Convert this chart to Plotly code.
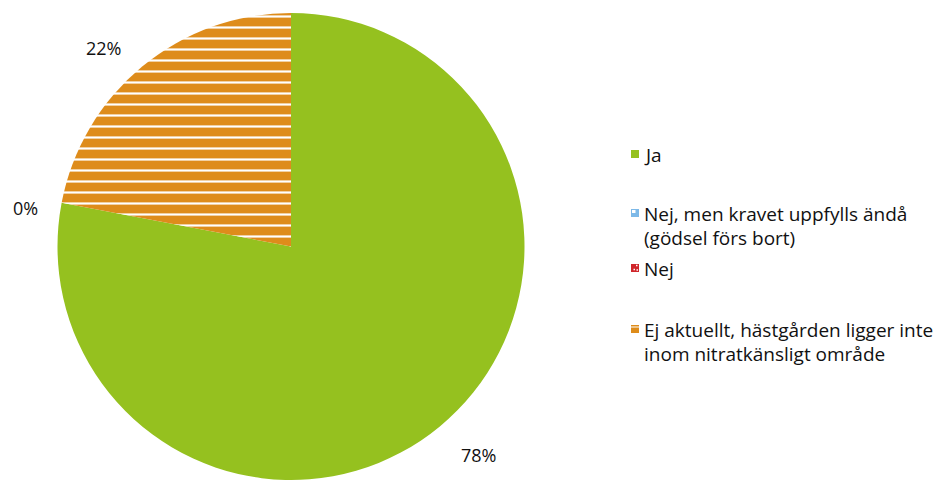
import math
import plotly.graph_objects as go

# Survey answers and their shares (percent)
categories = [
    "Ja",
    "Nej, men kravet uppfylls ändå<br>(gödsel förs bort)",
    "Nej",
    "Ej aktuellt, hästgården ligger inte<br>inom nitratkänsligt område",
]
values = [78, 0, 0, 22]
pct_labels = ["78%", "0%", "0%", "22%"]

colors = ["#95C11F", "#7DB9E8", "#D0262B", "#DE8C1B"]
patterns = ["", "", "", "-"]

W, H = 951, 480
FONT = "Open Sans"

# Pie geometry in pixels (domain-driven)
dom_x = [0.0, 582 / W]
dom_y = [0.0, 1 - 13 / H]
cx_px = (dom_x[0] + dom_x[1]) / 2 * W
r_px = min((dom_x[1] - dom_x[0]) * W, (dom_y[1] - dom_y[0]) * H) / 2
cy_px = H - (dom_y[0] + dom_y[1]) / 2 * H  # from top

fig = go.Figure(
    go.Pie(
        labels=categories,
        values=values,
        sort=False,
        direction="clockwise",
        rotation=0,
        textinfo="none",
        hoverinfo="label+percent",
        showlegend=False,
        domain=dict(x=dom_x, y=dom_y),
        marker=dict(
            colors=colors,
            line=dict(width=0),
            pattern=dict(
                shape=patterns,
                fgcolor=["white"] * len(values),
                bgcolor=colors,
                size=11,
                solidity=0.2,
                fillmode="replace",
            ),
        ),
    )
)

# Percentage labels placed outside each slice, around the slice mid-angles
# (radius factor, angular nudge in degrees clockwise)
label_place = {0: (1.20, -2.3), 1: (1.15, -2.6), 3: (1.17, -3.8)}
total = sum(values)
annotations = []
shapes = []
cum = 0
for i, v in enumerate(values):
    start = cum
    cum += v
    if i == 2:
        continue  # the two 0% slices share one label
    k, nudge = label_place[i]
    mid = (start + v / 2) / total * 2 * math.pi + math.radians(nudge)
    lx = cx_px + math.sin(mid) * r_px * k
    ly = cy_px - math.cos(mid) * r_px * k
    annotations.append(
        dict(
            x=lx / W, y=1 - ly / H, xref="paper", yref="paper",
            text=pct_labels[i], showarrow=False,
            font=dict(family=FONT, size=18, color="#111111"),
            xanchor="center", yanchor="middle",
        )
    )

# Legend drawn at the right, one entry per category
legend_rows = [155, 214, 269, 330]
line_gap = 24
sw = 8
for i, (lab, y0) in enumerate(zip(categories, legend_rows)):
    for j, line in enumerate(lab.split("<br>")):
        annotations.append(
            dict(
                x=642 / W, y=1 - (y0 + j * line_gap) / H, xref="paper", yref="paper",
                text=line, showarrow=False,
                font=dict(family=FONT, size=19, color="#111111"),
                xanchor="left", yanchor="middle",
            )
        )
    my = y0 - 1
    shapes.append(
        dict(type="rect", xref="paper", yref="paper",
             x0=631 / W, x1=(631 + sw) / W, y0=1 - (my + sw / 2) / H, y1=1 - (my - sw / 2) / H,
             fillcolor=colors[i], line=dict(width=0))
    )
    if i == 1:
        shapes.append(
            dict(type="rect", xref="paper", yref="paper",
                 x0=632 / W, x1=635.5 / W, y0=1 - (my) / H, y1=1 - (my - 3) / H,
                 fillcolor="white", line=dict(width=0))
        )
    elif i == 2:
        for (dx, dy) in [(5, -2.5), (2.5, 1.5), (5.5, 2)]:
            shapes.append(
                dict(type="rect", xref="paper", yref="paper",
                     x0=(631 + dx) / W, x1=(631 + dx + 1.5) / W,
                     y0=1 - (my + dy + 0.7) / H, y1=1 - (my + dy - 0.7) / H,
                     fillcolor="white", line=dict(width=0))
            )
    elif i == 3:
        shapes.append(
            dict(type="rect", xref="paper", yref="paper",
                 x0=631 / W, x1=(631 + sw) / W, y0=1 - (my - 1.5) / H, y1=1 - (my - 2.5) / H,
                 fillcolor="white", line=dict(width=0))
        )

fig.update_layout(
    width=W,
    height=H,
    margin=dict(l=0, r=0, t=0, b=0),
    paper_bgcolor="white",
    plot_bgcolor="white",
    annotations=annotations,
    shapes=shapes,
    font=dict(family=FONT),
)

fig.write_html("out.html")
